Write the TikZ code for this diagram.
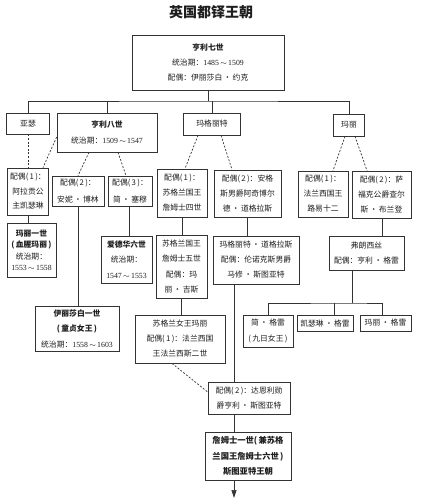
\documentclass[tikz,border=0pt]{standalone}
\usepackage{fontspec}
\newfontfamily\cjk{Noto Sans CJK SC}
\newfontfamily\numf{Liberation Serif}
\usetikzlibrary{arrows.meta}
\definecolor{lc}{HTML}{333333}
\definecolor{tc}{HTML}{1E1E1E}
\newcommand\yrs[2]{{\numf #1\,$\sim$\,#2}}
\newcommand\pr[1]{(\,#1\,)}
\begin{document}
\begin{tikzpicture}[x=1pt,y=-1pt,
  box/.style={draw=lc, line width=0.7pt, inner sep=0pt, align=center, text=tc,
    font=\cjk\fontsize{7.8}{15}\selectfont},
  bbox/.style={box, font=\cjk\bfseries\fontsize{8.3}{15.5}\selectfont},
  link/.style={draw=lc, line width=0.7pt},
  dlink/.style={link, dash pattern=on 2pt off 1.6pt}]
\useasboundingbox (0,0) rectangle (431,500);
\fill[white] (0,0) rectangle (431,500);

\node[text=tc, font=\cjk\bfseries\fontsize{14}{16}\selectfont] (title) at (211,12) {英国都铎王朝};

% generation 1
\node[box, minimum width=152, minimum height=55] (top) at (208,62.5)
  {{\bfseries 亨利七世}\\统治期：\yrs{1485}{1509}\\配偶：伊丽莎白\,·\,约克};

% generation 2
\node[box, minimum width=43, minimum height=21] (arthur) at (28,123.5) {亚瑟};
\node[box, minimum width=100, minimum height=39, font=\cjk\fontsize{7.8}{16}\selectfont] (h8) at (107,132.5)
  {{\bfseries 亨利八世}\\统治期：\yrs{1509}{1547}};
\node[box, minimum width=57, minimum height=22] (marg) at (212,124) {玛格丽特};
\node[box, minimum width=31, minimum height=22] (mary) at (349,125) {玛丽};

% spouses
\node[box, minimum width=41, minimum height=47, font=\cjk\fontsize{7.8}{14.5}\selectfont] (sp1) at (28,191.5)
  {配偶\pr{1}：\\阿拉贡公\\主凯瑟琳};
\node[box, minimum width=52, minimum height=30, font=\cjk\fontsize{7.8}{17}\selectfont] (sp2) at (78,191)
  {配偶\pr{2}：\\安妮\,·\,博林};
\node[box, minimum width=44, minimum height=30, font=\cjk\fontsize{7.8}{17}\selectfont] (sp3) at (130,191)
  {配偶\pr{3}：\\简\,·\,塞穆};
\node[box, minimum width=50, minimum height=48] (spj4) at (182,193)
  {配偶\pr{1}：\\苏格兰国王\\詹姆士四世};
\node[box, minimum width=67, minimum height=47] (spang) at (247.5,193.5)
  {配偶\pr{2}：安格\\斯男爵阿奇博尔\\德\,·\,道格拉斯};
\node[box, minimum width=50, minimum height=46] (spl12) at (323,194)
  {配偶\pr{1}：\\法兰西国王\\路易十二};
\node[box, minimum width=59, minimum height=47] (spsuf) at (381.5,194.5)
  {配偶\pr{2}：萨\\福克公爵查尔\\斯\,·\,布兰登};

% generation 3
\node[box, minimum width=49, minimum height=54, font=\cjk\fontsize{7.8}{11.5}\selectfont] (mary1) at (31.5,250)
  {{\bfseries 玛丽一世}\\{\bfseries \pr{血腥玛丽}}\\统治期：\\\yrs{1553}{1558}};
\node[box, minimum width=51, minimum height=47, font=\cjk\fontsize{7.8}{15.5}\selectfont] (ed6) at (126.5,259.5)
  {{\bfseries 爱德华六世}\\统治期：\\\yrs{1547}{1553}};
\node[box, minimum width=51, minimum height=63, font=\cjk\fontsize{7.8}{15.3}\selectfont] (j5) at (181.5,266.5)
  {苏格兰国王\\詹姆士五世\\配偶：玛\\丽\,·\,吉斯};
\node[box, minimum width=86, minimum height=48] (mdoug) at (256,260)
  {玛格丽特\,·\,道格拉斯\\配偶：伦诺克斯男爵\\马修\,·\,斯图亚特};
\node[box, minimum width=75, minimum height=34] (fran) at (366.5,253)
  {弗朗西丝\\配偶：亨利\,·\,格雷};

% generation 4
\node[box, minimum width=50, minimum height=32, font=\cjk\fontsize{7.8}{16}\selectfont] (jane) at (268,331)
  {简\,·\,格雷\\\pr{九日女王}};
\node[box, minimum width=56, minimum height=16] (kath) at (325,323.5) {凯瑟琳\,·\,格雷};
\node[box, minimum width=51, minimum height=16] (maryg) at (385.5,323) {玛丽\,·\,格雷};
\node[box, minimum width=84, minimum height=45, font=\cjk\fontsize{7.8}{15.5}\selectfont] (eliz) at (77,328.5)
  {{\bfseries 伊丽莎白一世}\\{\bfseries \pr{童贞女王}}\\统治期：\yrs{1558}{1603}};
\node[box, minimum width=90, minimum height=48] (mqs) at (180,339)
  {苏格兰女王玛丽\\配偶\pr{1}：法兰西国\\王法兰西斯二世};
\node[box, minimum width=82, minimum height=32] (darn) at (249,398)
  {配偶\pr{2}：达恩利勋\\爵亨利\,·\,斯图亚特};
\node[bbox, minimum width=86, minimum height=48] (j1) at (248,456)
  {詹姆士一世(\,兼苏格\\兰国王詹姆士六世\,)\\斯图亚特王朝};

% bus 1
\coordinate (b1) at (208,101);
\draw[link] (top.south) -- (b1);
\draw[link] (arthur.north) |- (b1) -| (mary.north);
\draw[link] (h8.north) -- (h8.north |- b1);
\draw[link] (marg.north) -- (marg.north |- b1);

% dashed marriages
\draw[dlink] (arthur.south) -- (sp1.north);
\draw[dlink] (h8.west |- 0,137) -- (sp1.north -| 43,0);
\draw[dlink] (h8.south -| 89,0) -- (sp2.north);
\draw[dlink] (h8.south -| 118,0) -- (sp3.north -| 126,0);
\draw[dlink] (marg.south -| 198,0) -- (spj4.north -| 185,0);
\draw[dlink] (marg.south -| 221,0) -- (spang.north -| 232,0);
\draw[dlink] (mary.south -| 345,0) -- (spl12.north -| 333,0);
\draw[dlink] (mary.south -| 355,0) -- (spsuf.north -| 367,0);
\draw[dlink] (mqs.south -| 172,0) -- (darn.west |- 0,392);

% descent lines
\draw[link] (sp1.south) -- (sp1.south |- mary1.north);
\draw[link] (sp2.south) -- (sp2.south |- eliz.north);
\draw[link] (sp3.south -| 129,0) -- (ed6.north -| 129,0);
\draw[link] (spj4.south) -- (spj4.south |- j5.north);
\draw[link] (j5.south) -- (j5.south |- mqs.north);
\draw[link] (spang.south -| 247,0) -- (mdoug.north -| 247,0);
\draw[link] (spsuf.south -| 382,0) -- (fran.north -| 382,0);
\draw[link] (mdoug.south -| 234,0) -- (darn.north -| 234,0);
\draw[link] (darn.south -| 234,0) -- (j1.north -| 234,0);
\coordinate (arrowend) at (234,498);
\draw[link, -{Triangle[length=8pt,width=5pt]}] (j1.south -| 234,0) -- (arrowend);

% bus 2
\coordinate (b2) at (352,303);
\draw[link] (fran.south -| b2) -- (b2);
\draw[link] (jane.north) |- (b2) -| (maryg.north -| 382,0);
\draw[link] (kath.north -| 334,0) -- (b2 -| 334,0);
\end{tikzpicture}
\end{document}
